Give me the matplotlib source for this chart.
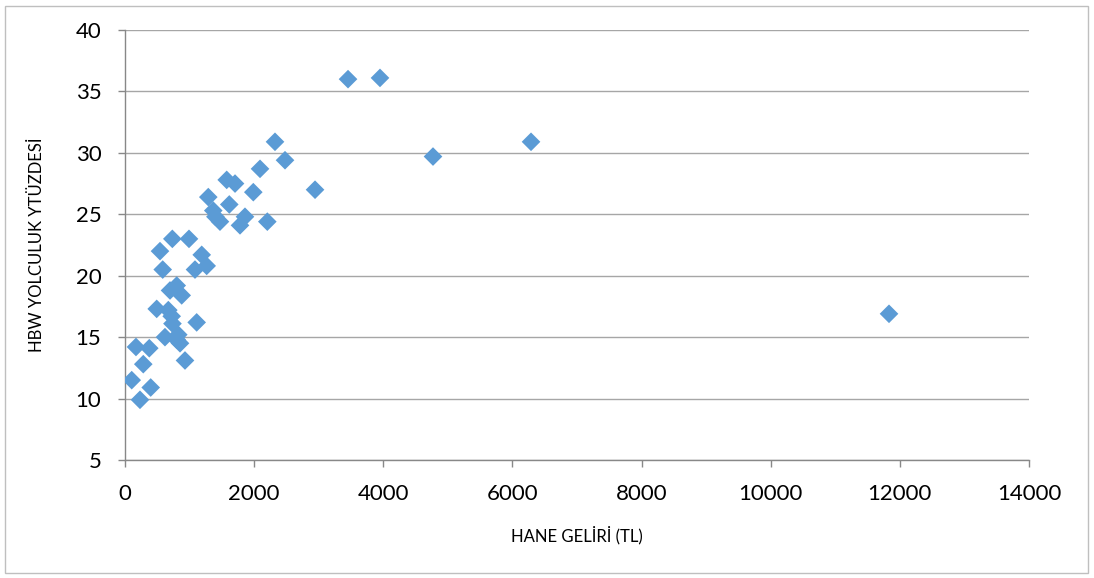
import matplotlib
matplotlib.use("Agg")
import matplotlib.pyplot as plt
from matplotlib.patches import Rectangle

income = [104, 232, 398, 283, 170, 376, 929, 619, 852, 825, 800,
          491, 671, 723, 735, 1110, 697, 801, 878, 584, 542, 733,
          991, 1188, 1084, 1265, 1290, 1367, 1400, 1471, 1615, 1575,
          1704, 1987, 1858, 1781, 2204, 2091, 2323, 2478, 2943, 3454,
          3949, 4770, 6288, 11832]
hbw_pct = [11.5, 9.9, 10.9, 12.8, 14.2, 14.1, 13.1, 15.0, 14.5, 15.2, 14.8,
           17.3, 17.2, 16.7, 16.1, 16.2, 18.8, 19.2, 18.4, 20.5, 22.0, 23.0,
           23.0, 21.7, 20.5, 20.8, 26.4, 25.3, 24.8, 24.4, 25.8, 27.8,
           27.5, 26.8, 24.8, 24.1, 24.4, 28.7, 30.9, 29.4, 27.0, 36.0,
           36.1, 29.7, 30.9, 16.9]
x_ticks = [0, 2000, 4000, 6000, 8000, 10000, 12000, 14000]
y_ticks = [5, 10, 15, 20, 25, 30, 35, 40]

plt.rcParams['font.family'] = ['Lato', 'DejaVu Sans']

fig = plt.figure(figsize=(10.94, 5.78), dpi=100)
ax = fig.add_axes([125/1094, 1-460/578, (1029-125)/1094, (460-30)/578])

fig.patches.append(Rectangle((5/1094, 5/578), 1083/1094, 567/578,
                             transform=fig.transFigure, fill=False,
                             edgecolor='#BFBFBF', linewidth=1))

ax.scatter(income, hbw_pct, marker='D', s=9.5**2, color='#5B9BD5',
           edgecolors='none', zorder=3)

ax.set_xlim(0, 14000)
ax.set_ylim(5, 40)
ax.set_xticks(x_ticks)
ax.set_yticks(y_ticks)
ax.tick_params(labelsize=16, colors='#888888', length=5, width=1,
               labelcolor='black', direction='out')
ax.tick_params(axis='x', pad=12)
ax.tick_params(axis='y', pad=12)
ax.yaxis.grid(True, color='#A6A6A6', linewidth=1)
ax.set_axisbelow(True)
for s in ['top', 'right']:
    ax.spines[s].set_visible(False)
for s in ['left', 'bottom']:
    ax.spines[s].set_color('#888888')
    ax.spines[s].set_linewidth(1)

ax.set_xlabel('HANE GELİRİ (TL)', fontsize=12, labelpad=16)
ax.set_ylabel('HBW YOLCULUK YTÜZDESİ', fontsize=12, labelpad=22)

fig.savefig('out.png', dpi=100)
